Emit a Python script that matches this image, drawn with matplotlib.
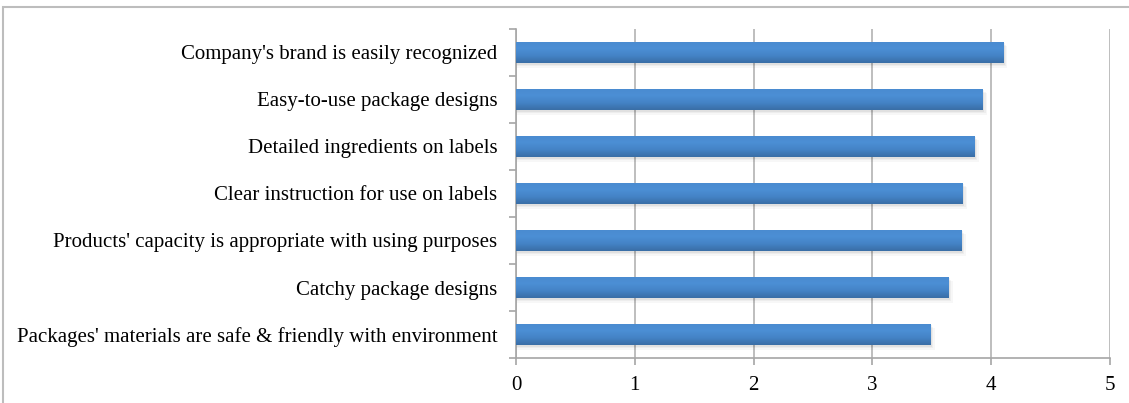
import numpy as np
import matplotlib.pyplot as plt
from matplotlib.colors import LinearSegmentedColormap
from matplotlib.patches import Rectangle

categories = [
    "Company's brand is easily recognized",
    "Easy-to-use package designs",
    "Detailed ingredients on labels",
    "Clear instruction for use on labels",
    "Products' capacity is appropriate with using purposes",
    "Catchy package designs",
    "Packages' materials are safe & friendly with environment",
]
scores = [4.10, 3.93, 3.86, 3.76, 3.75, 3.64, 3.49]
x_ticks = [0, 1, 2, 3, 4, 5]

plt.rcParams['font.family'] = ['Liberation Serif', 'DejaVu Serif']

W, H = 1129, 403
fig = plt.figure(figsize=(W / 100, H / 100), dpi=100)
ax = fig.add_axes([516 / W, 1 - 358 / H, (1110 - 516) / W, (358 - 29) / H])

n = len(categories)
ypos = np.arange(n)[::-1]
bar_h = 0.46

# soft drop shadow behind each bar
for y, v in zip(ypos, scores):
    for k, a in enumerate([0.05, 0.04, 0.03]):
        off = 0.012 * (k + 1)
        ax.add_patch(Rectangle((0, y - bar_h / 2 - off * 2.5), v + off, bar_h,
                               facecolor='black', alpha=a, edgecolor='none', zorder=2))

bars = ax.barh(ypos, scores, height=bar_h, color='#4384c8', edgecolor='none', zorder=3)

# vertical gradient fill, lighter at top
cmap = LinearSegmentedColormap.from_list('bar', ['#3a6ea6', '#4483c6', '#4c8fd5', '#4a8bd0'])
grad = np.linspace(0, 1, 64).reshape(-1, 1)
for bar in bars:
    x0, y0 = bar.get_x(), bar.get_y()
    w, h = bar.get_width(), bar.get_height()
    im = ax.imshow(grad, cmap=cmap, aspect='auto', origin='lower',
                   extent=[x0, x0 + w, y0, y0 + h], zorder=4, interpolation='bilinear')
    im.set_clip_path(bar)

ax.set_xlim(0, 5)
ax.set_ylim(-0.5, n - 0.5)
ax.set_xticks(x_ticks)
ax.set_xticklabels([str(t) for t in x_ticks])
ax.set_yticks(ypos)
ax.set_yticklabels(categories)
ax.set_yticks(np.arange(-0.5, n, 1.0), minor=True)

ax.grid(axis='x', color='#b3b3b3', linewidth=1.2, zorder=0)
ax.set_axisbelow(True)
for s in ['top', 'right']:
    ax.spines[s].set_visible(False)
for s in ['left', 'bottom']:
    ax.spines[s].set_color('#a6a6a6')
    ax.spines[s].set_linewidth(1.2)

ax.tick_params(axis='y', which='major', length=0, pad=13.5, labelsize=15)
ax.tick_params(axis='y', which='minor', length=5, color='#a6a6a6', width=1.2)
ax.tick_params(axis='x', length=5, color='#a6a6a6', width=1.2, pad=8, labelsize=15)

# outer frame, cut off at right and bottom
frame = Rectangle((3 / W, -0.1), 1.2, 1 - 7 / H + 0.1, transform=fig.transFigure,
                  fill=False, edgecolor='#bdbdbd', linewidth=1.5)
fig.add_artist(frame)

fig.savefig('out.png', dpi=100)
